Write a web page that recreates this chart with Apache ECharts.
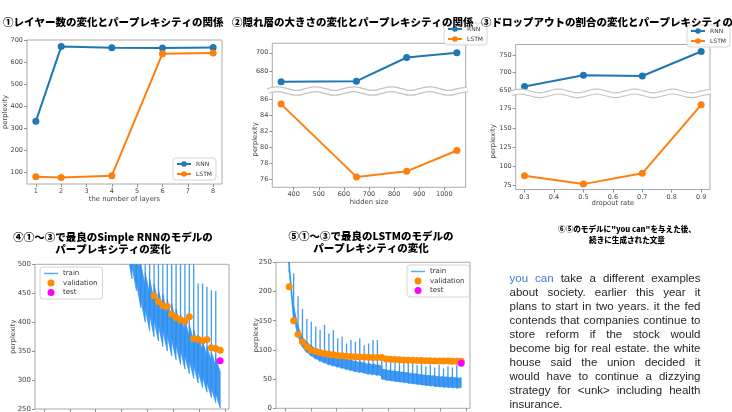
<!DOCTYPE html>
<html>
<head>
<meta charset="utf-8">
<script src="https://cdn.jsdelivr.net/npm/echarts@6/dist/echarts.min.js"></script>
<style>
  html, body { margin: 0; padding: 0; background: #ffffff; }
  #chart { width: 732px; height: 412px; }
</style>
</head>
<body>
<div id="chart"></div>
<script>
// ① number of layers
const layerCounts = [1, 2, 4, 6, 8];
const layerRnnPerplexity = [332, 672, 667, 666, 668];
const layerLstmPerplexity = [80, 77, 85, 640, 643];
const layerXTicks = [1, 2, 3, 4, 5, 6, 7, 8];
const layerYTicks = [100, 200, 300, 400, 500, 600, 700];

// ② hidden size
const hiddenSizes = [350, 650, 850, 1050];
const hiddenRnnPerplexity = [669.5, 670, 695, 700];
const hiddenLstmPerplexity = [85.4, 76.3, 77.0, 79.6];
const hiddenXTicks = [400, 500, 600, 700, 800, 900, 1000];
const hiddenTopTicks = [680, 700];
const hiddenBottomTicks = [76, 78, 80, 82, 84, 86];

// ③ dropout rate
const dropoutRates = [0.3, 0.5, 0.7, 0.9];
const dropoutRnnPerplexity = [660, 692, 690, 760];
const dropoutLstmPerplexity = [88, 77, 91, 180];
const dropoutXTicks = [0.3, 0.4, 0.5, 0.6, 0.7, 0.8, 0.9];
const dropoutTopTicks = [650, 700, 750];
const dropoutBottomTicks = [75, 100, 125, 150, 175];

// ④ / ⑤ training curves (per epoch: spike at the start, band top at start, band bottom at end)
const STEPS_PER_EPOCH = 1700;
const stepTicks = [0, 10000, 20000, 30000, 40000, 50000, 60000, 70000];

const rnnTrainEpochs = [19, 20, 21, 22, 23, 24, 25, 26, 27, 28, 29, 30, 31, 32, 33, 34, 35, 36, 37, 38, 39, 40];
const rnnTrainPeak   = [620, 600, 600, 590, 590, 580, 580, 570, 570, 560, 560, 560, 550, 550, 550, 540, 510, 467, 467, 461, 455, 454];
const rnnTrainTop    = [620, 580, 560, 530, 500, 485, 475, 466, 457, 448, 440, 432, 423, 414, 405, 396, 387, 378, 368, 358, 348, 338];
const rnnTrainBottom = [500, 475, 455, 425, 400, 385, 375, 367, 358, 350, 342, 335, 327, 319, 311, 303, 295, 287, 279, 270, 261, 252];
const RNN_TRAIN_SPREAD = 62;

const rnnValidEpochs = [25, 26, 27, 28, 29, 30, 31, 32, 33, 34, 35, 36, 37, 38, 39, 40];
const rnnValidPerplexity = [445.5, 435.5, 428.3, 427.2, 413.6, 408.1, 404.4, 401, 409.3, 372, 370.7, 367.8, 369.9, 356, 354.5, 351.4];
const rnnTestPerplexity = 333.5;
const rnnCurveYTicks = [250, 300, 350, 400, 450, 500];

const lstmTrainEpochs = [1, 2, 3, 4, 5, 6, 7, 8, 9, 10, 11, 12, 13, 14, 15, 16, 17, 18, 19, 20,
                         21, 22, 23, 24, 25, 26, 27, 28, 29, 30, 31, 32, 33, 34, 35, 36, 37, 38, 39, 40];
const lstmTrainPeak   = [1000, 260, 231, 192, 170, 153, 148, 140, 134, 143, 128, 134, 120, 123, 111, 117, 114, 120, 108, 111,
                         117, 117, 92, 88, 86, 87, 84, 82, 84, 80, 74, 78, 72, 75, 70, 74, 68, 72, 70, 74];
const lstmTrainTop    = [900, 250, 175, 140, 122, 114, 108, 103, 99, 96, 93, 91, 89, 87, 85, 83, 81, 80, 78, 77,
                         76, 75, 67, 65, 64, 63, 62, 61, 60, 59, 58, 57, 56, 55, 54, 53.5, 53, 52.5, 52, 51.5];
const lstmTrainBottom = [245, 150, 122, 105, 95, 89, 84, 80, 77, 74, 72, 70, 68, 66, 64, 62, 61, 60, 58, 57,
                         56, 55, 49, 48, 47, 46, 45, 44, 43, 42, 41, 40, 39.5, 39, 38, 37.5, 37, 36.5, 36, 35.5];
const LSTM_TRAIN_SPREAD = 17;

const lstmValidEpochs = lstmTrainEpochs;
const lstmValidPerplexity = [208, 150, 127, 114, 105.5, 100, 97.5, 95.5, 94, 92.5, 91.5, 90.5, 89.8, 89.2, 88.7, 88.3, 88, 87.7, 87.4, 87.2,
                             87, 86.8, 84.3, 83.8, 83.4, 83, 82.7, 82.4, 82.2, 82, 81.8, 81.6, 81.4, 81.2, 81, 80.9, 80.8, 80.6, 80.5, 80.4];
const lstmTestPerplexity = 77;
const lstmCurveYTicks = [0, 50, 100, 150, 200, 250];

// ⑥ generated text
const generatedLines = [
  'you can take a different examples',
  'about society. earlier this year it',
  'plans to start in two years. it the fed',
  'contends that companies continue to',
  'store reform if the stock would',
  'become big for real estate. the white',
  'house said the union decided it',
  'would have to continue a dizzying',
  'strategy for <unk> including health',
  'insurance.'
];
const promptWordCount = 2;

// ---------------------------------------------------------------
const RNN_COLOR = '#1f77b4';
const LSTM_COLOR = '#ff7f0e';
const TRAIN_COLOR = '#2b8ff2';
const VALID_COLOR = '#ff8c00';
const TEST_COLOR = '#ff00ff';
const FONT = 'DejaVu Sans';
const CJK = '"Noto Sans CJK JP"';

const pairs = (xs, ys) => xs.map((x, i) => [x, ys[i]]);
const stepsOf = (k) => k * STEPS_PER_EPOCH;

function valueAxis(gridIndex, min, max, ticks, o) {
  o = o || {};
  return {
    type: 'value', gridIndex, min, max,
    splitLine: { show: false },
    axisLine: { show: false, onZero: false },
    axisTick: { show: !o.hideTicks, customValues: ticks, length: 3, lineStyle: { color: '#777', width: 0.8 } },
    axisLabel: { show: !o.hideLabels, customValues: ticks, fontSize: o.labelSize || 6.5, color: '#444',
                 fontFamily: FONT, margin: 4, formatter: (v) => String(v) },
    name: o.name || '',
    nameGap: o.nameGap || 10,
    nameLocation: 'middle',
    nameMoveOverlap: false,
    nameTextStyle: { fontSize: 6.8, color: '#444', fontFamily: FONT }
  };
}

function lineSeries(name, color, gi, xs, ys) {
  return {
    type: 'line', name, xAxisIndex: gi, yAxisIndex: gi, data: pairs(xs, ys),
    symbol: 'circle', symbolSize: 7, showSymbol: true,
    lineStyle: { color, width: 2 }, itemStyle: { color },
    emphasis: { disabled: true }, silent: true, z: 3
  };
}

function trainBand(spread) {
  return function (params, api) {
    const x0 = api.value(0), x1 = api.value(1);
    const peak = api.value(2), top = api.value(3), bottom = api.value(4);
    const a = api.coord([x0, top]);
    const b = api.coord([x1, bottom + spread]);
    const c = api.coord([x1, bottom]);
    const d = api.coord([x0, top - spread]);
    const s = api.coord([x0, peak]);
    return {
      type: 'group',
      children: [
        { type: 'polygon', shape: { points: [a, b, c, d] },
          style: { fill: TRAIN_COLOR, stroke: TRAIN_COLOR, lineWidth: 0.8, opacity: 0.9 } },
        { type: 'line', shape: { x1: s[0], y1: s[1], x2: d[0], y2: d[1] },
          style: { stroke: TRAIN_COLOR, lineWidth: 1.3, opacity: 0.9 } }
      ]
    };
  };
}

function trainSeries(gi, epochs, peak, top, bottom, spread) {
  return {
    type: 'custom', name: 'train', xAxisIndex: gi, yAxisIndex: gi,
    data: epochs.map((k, i) => [stepsOf(k - 1), stepsOf(k), peak[i], top[i], bottom[i]]),
    encode: { x: [0, 1], y: [2, 3, 4] },
    renderItem: trainBand(spread), clip: true, silent: true, z: 1,
    itemStyle: { color: TRAIN_COLOR }
  };
}

function scatterSeries(name, color, gi, data) {
  return {
    type: 'scatter', name, xAxisIndex: gi, yAxisIndex: gi, data,
    symbol: 'circle', symbolSize: 7, itemStyle: { color, opacity: 1 },
    emphasis: { disabled: true }, silent: true, z: 4
  };
}

const gridBase = { show: true, borderColor: '#aaaaaa', borderWidth: 1, backgroundColor: 'transparent',
                   containLabel: false, outerBoundsMode: 'none' };
const grids = [
  { left: 27, top: 40, width: 195, height: 144 },
  { left: 272.3, top: 43.3, width: 193.4, height: 47.4 },
  { left: 272.3, top: 91.3, width: 193.4, height: 96 },
  { left: 515.7, top: 44.5, width: 194.3, height: 49 },
  { left: 515.7, top: 93.3, width: 194.3, height: 96.2 },
  { left: 35, top: 264.3, width: 194, height: 144.7 },
  { left: 276, top: 262.3, width: 194, height: 146 }
].map(g => Object.assign({}, gridBase, g));

const xAxes = [
  valueAxis(0, 0.65, 8.35, layerXTicks, { name: 'the number of layers', nameGap: 12 }),
  valueAxis(1, 315, 1085, hiddenXTicks, { hideLabels: true, hideTicks: true }),
  valueAxis(2, 315, 1085, hiddenXTicks, { name: 'hidden size', nameGap: 11 }),
  valueAxis(3, 0.27, 0.93, dropoutXTicks, { hideLabels: true, hideTicks: true }),
  valueAxis(4, 0.27, 0.93, dropoutXTicks, { name: 'dropout rate', nameGap: 10 }),
  valueAxis(5, -3400, 71400, stepTicks, { hideLabels: true }),
  valueAxis(6, -3400, 71400, stepTicks, { hideLabels: true })
];
const yAxes = [
  valueAxis(0, 47, 702, layerYTicks, { name: 'perplexity', nameGap: 18 }),
  valueAxis(1, 660, 710, hiddenTopTicks),
  valueAxis(2, 75, 87, hiddenBottomTicks, { name: 'perplexity', nameGap: 14 }),
  valueAxis(3, 640, 780, dropoutTopTicks),
  valueAxis(4, 70, 195, dropoutBottomTicks, { name: 'perplexity', nameGap: 19 }),
  valueAxis(5, 250, 500, rnnCurveYTicks, { name: 'perplexity', nameGap: 18, labelSize: 7 }),
  valueAxis(6, 0, 250, lstmCurveYTicks, { name: 'perplexity', nameGap: 16.5, labelSize: 7 })
];

const series = [
  lineSeries('RNN', RNN_COLOR, 0, layerCounts, layerRnnPerplexity),
  lineSeries('LSTM', LSTM_COLOR, 0, layerCounts, layerLstmPerplexity),
  lineSeries('RNN', RNN_COLOR, 1, hiddenSizes, hiddenRnnPerplexity),
  lineSeries('LSTM', LSTM_COLOR, 2, hiddenSizes, hiddenLstmPerplexity),
  lineSeries('RNN', RNN_COLOR, 3, dropoutRates, dropoutRnnPerplexity),
  lineSeries('LSTM', LSTM_COLOR, 4, dropoutRates, dropoutLstmPerplexity),
  trainSeries(5, rnnTrainEpochs, rnnTrainPeak, rnnTrainTop, rnnTrainBottom, RNN_TRAIN_SPREAD),
  scatterSeries('validation', VALID_COLOR, 5, pairs(rnnValidEpochs.map(stepsOf), rnnValidPerplexity)),
  scatterSeries('test', TEST_COLOR, 5, [[stepsOf(rnnValidEpochs[rnnValidEpochs.length - 1]), rnnTestPerplexity]]),
  trainSeries(6, lstmTrainEpochs, lstmTrainPeak, lstmTrainTop, lstmTrainBottom, LSTM_TRAIN_SPREAD),
  scatterSeries('validation', VALID_COLOR, 6, pairs(lstmValidEpochs.map(stepsOf), lstmValidPerplexity)),
  scatterSeries('test', TEST_COLOR, 6, [[stepsOf(lstmValidEpochs[lstmValidEpochs.length - 1]), lstmTestPerplexity]])
];

const legendBase = {
  orient: 'vertical', itemWidth: 14, itemHeight: 7, borderColor: '#d4d4d4', borderWidth: 1,
  borderRadius: 3, backgroundColor: 'rgba(255,255,255,0.85)', selectedMode: false, z: 20
};
const smallLegend = { itemGap: 4, padding: [3, 4, 3, 3],
  textStyle: { fontSize: 6, color: '#333', fontFamily: FONT } };
const curveLegend = { itemGap: 2.5, padding: [3, 5, 3, 4],
  textStyle: { fontSize: 7, color: '#333', fontFamily: FONT } };
const TRAIN_ICON = 'path://M0,0L0.01,0ZM0,2.8H14V4.2H0ZM0,7L0.01,7Z';
const curveLegendData = [
  { name: 'train', icon: TRAIN_ICON, itemStyle: { color: '#5fa8ee' } },
  { name: 'validation', icon: 'circle' },
  { name: 'test', icon: 'circle' }
];
const legends = [
  Object.assign({ left: 173, top: 158, data: ['RNN', 'LSTM'] }, smallLegend),
  Object.assign({ left: 444, top: 23, data: ['RNN', 'LSTM'] }, smallLegend),
  Object.assign({ left: 687, top: 25, data: ['RNN', 'LSTM'] }, smallLegend),
  Object.assign({ left: 40, top: 267, data: curveLegendData }, curveLegend),
  Object.assign({ left: 407, top: 265, data: curveLegendData }, curveLegend)
].map(l => Object.assign({}, legendBase, l));

// titles
const titleFont = (size) => `900 ${size}px ${CJK}`;
function textEl(text, x, y, font, align, lineHeight) {
  return {
    type: 'text', x, y, silent: true, z: 30,
    style: { text, font, fill: '#000', align, textAlign: align, verticalAlign: 'middle',
             textVerticalAlign: 'middle', lineHeight }
  };
}
const graphics = [
  textEl('①レイヤー数の変化とパープレキシティの関係', 3, 22, titleFont(10.5), 'left'),
  textEl('②隠れ層の大きさの変化とパープレキシティの関係', 232, 22, titleFont(10.5), 'left'),
  textEl('③ドロップアウトの割合の変化とパープレキシティの関係', 481, 22, titleFont(10.5), 'left'),
  textEl('④①～③で最良のSimple RNNのモデルの\nパープレキシティの変化', 113, 243.3, titleFont(10.5), 'center', 12),
  textEl('⑤①～③で最良のLSTMのモデルの\nパープレキシティの変化', 371, 242.5, titleFont(10.5), 'center', 12),
  textEl('⑥⑤のモデルに"you can"を与えた後、\n続きに生成された文章', 627, 234.5, titleFont(7.6), 'center', 11)
];

// axis-break squiggles between the upper and lower parts of ② and ③
function squiggle(x0, x1, y) {
  const pts = [];
  const half = 19;
  let up = true;
  for (let x = x0; x <= x1 + 0.1; x += half / 2) {
    pts.push([x, y + (pts.length % 2 === 0 ? 0 : (up ? -1.8 : 1.8))]);
    if (pts.length % 2 === 0) up = !up;
  }
  return [
    { type: 'polyline', shape: { points: pts, smooth: 0.6 }, silent: true, z: 25,
      style: { stroke: '#c4c4c4', lineWidth: 6, fill: null } },
    { type: 'polyline', shape: { points: pts, smooth: 0.6 }, silent: true, z: 26,
      style: { stroke: '#ffffff', lineWidth: 3.6, fill: null } }
  ];
}
graphics.push(...squiggle(268, 470, 91));
graphics.push(...squiggle(511, 714, 93.4));

// justified paragraph for ⑥
(function () {
  const size = 11.5;
  const family = '"Liberation Sans", Arial, sans-serif';
  const ctx = document.createElement('canvas').getContext('2d');
  ctx.font = `${size}px ${family}`;
  const left = 509.5, width = 191, firstY = 279, lineStep = 14;
  const spaceW = ctx.measureText(' ').width;
  let wordIndex = 0;
  generatedLines.forEach((line, li) => {
    const words = line.split(' ');
    const ws = words.map(w => ctx.measureText(w).width);
    const total = ws.reduce((a, b) => a + b, 0);
    const last = li === generatedLines.length - 1;
    const gap = (!last && words.length > 1) ? (width - total) / (words.length - 1) : spaceW;
    let x = left;
    words.forEach((w, wi) => {
      graphics.push({
        type: 'text', x, y: firstY + li * lineStep, silent: true, z: 30,
        style: { text: w, font: `${size}px ${family}`,
                 fill: wordIndex < promptWordCount ? '#3f7bd6' : '#262626',
                 align: 'left', textAlign: 'left', verticalAlign: 'middle', textVerticalAlign: 'middle' }
      });
      x += ws[wi] + gap;
      wordIndex++;
    });
  });
})();

const chart = echarts.init(document.getElementById('chart'), null, { renderer: 'canvas' });
chart.setOption({
  animation: false,
  backgroundColor: '#ffffff',
  textStyle: { fontFamily: FONT },
  grid: grids,
  xAxis: xAxes,
  yAxis: yAxes,
  legend: legends,
  series,
  graphic: graphics
});
</script>
</body>
</html>
